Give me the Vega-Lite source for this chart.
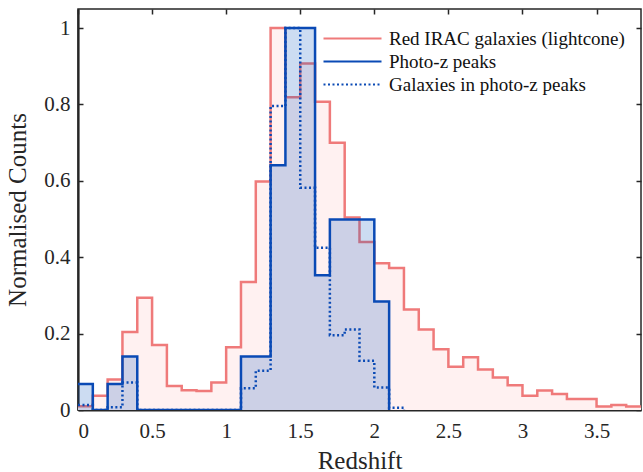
{
  "$schema": "https://vega.github.io/schema/vega-lite/v6.json",
  "width": 563,
  "height": 401,
  "autosize": {"type": "none"},
  "padding": {"left": 78, "top": 9, "right": 2, "bottom": 62},
  "background": "white",
  "config": {
    "font": "Liberation Serif",
    "view": {"stroke": "#262626", "strokeWidth": 1.5},
    "axis": {
      "grid": false,
      "zindex": 1,
      "domainColor": "#262626",
      "domainWidth": 2.2,
      "tickColor": "#262626",
      "tickWidth": 1.5,
      "tickSize": -5,
      "labelColor": "#262626",
      "titleColor": "#262626",
      "labelFont": "Liberation Serif",
      "titleFont": "Liberation Serif",
      "labelFontSize": 21,
      "titleFontSize": 25,
      "titleFontWeight": "normal"
    },
    "legend": {
      "orient": "none",
      "legendX": 244,
      "symbolType": "stroke",
      "symbolSize": 3364,
      "symbolStrokeWidth": 2.2,
      "labelFont": "Liberation Serif",
      "labelFontSize": 19,
      "labelLimit": 0,
      "labelColor": "#111111",
      "labelOffset": 6,
      "padding": 0
    }
  },
  "data": {
    "values": [
      {"series": "Red IRAC galaxies (lightcone)", "z": 0.0, "v": 0.01},
      {"series": "Red IRAC galaxies (lightcone)", "z": 0.1, "v": 0.037},
      {"series": "Red IRAC galaxies (lightcone)", "z": 0.2, "v": 0.08},
      {"series": "Red IRAC galaxies (lightcone)", "z": 0.3, "v": 0.204},
      {"series": "Red IRAC galaxies (lightcone)", "z": 0.4, "v": 0.294},
      {"series": "Red IRAC galaxies (lightcone)", "z": 0.5, "v": 0.17},
      {"series": "Red IRAC galaxies (lightcone)", "z": 0.6, "v": 0.063},
      {"series": "Red IRAC galaxies (lightcone)", "z": 0.7, "v": 0.052},
      {"series": "Red IRAC galaxies (lightcone)", "z": 0.8, "v": 0.05},
      {"series": "Red IRAC galaxies (lightcone)", "z": 0.9, "v": 0.072},
      {"series": "Red IRAC galaxies (lightcone)", "z": 1.0, "v": 0.164},
      {"series": "Red IRAC galaxies (lightcone)", "z": 1.1, "v": 0.335},
      {"series": "Red IRAC galaxies (lightcone)", "z": 1.2, "v": 0.598},
      {"series": "Red IRAC galaxies (lightcone)", "z": 1.3, "v": 1.0},
      {"series": "Red IRAC galaxies (lightcone)", "z": 1.4, "v": 0.819},
      {"series": "Red IRAC galaxies (lightcone)", "z": 1.5, "v": 0.907},
      {"series": "Red IRAC galaxies (lightcone)", "z": 1.6, "v": 0.807},
      {"series": "Red IRAC galaxies (lightcone)", "z": 1.7, "v": 0.70},
      {"series": "Red IRAC galaxies (lightcone)", "z": 1.8, "v": 0.504},
      {"series": "Red IRAC galaxies (lightcone)", "z": 1.9, "v": 0.44},
      {"series": "Red IRAC galaxies (lightcone)", "z": 2.0, "v": 0.384},
      {"series": "Red IRAC galaxies (lightcone)", "z": 2.1, "v": 0.372},
      {"series": "Red IRAC galaxies (lightcone)", "z": 2.2, "v": 0.263},
      {"series": "Red IRAC galaxies (lightcone)", "z": 2.3, "v": 0.211},
      {"series": "Red IRAC galaxies (lightcone)", "z": 2.4, "v": 0.159},
      {"series": "Red IRAC galaxies (lightcone)", "z": 2.5, "v": 0.113},
      {"series": "Red IRAC galaxies (lightcone)", "z": 2.6, "v": 0.138},
      {"series": "Red IRAC galaxies (lightcone)", "z": 2.7, "v": 0.106},
      {"series": "Red IRAC galaxies (lightcone)", "z": 2.8, "v": 0.085},
      {"series": "Red IRAC galaxies (lightcone)", "z": 2.9, "v": 0.065},
      {"series": "Red IRAC galaxies (lightcone)", "z": 3.0, "v": 0.037},
      {"series": "Red IRAC galaxies (lightcone)", "z": 3.1, "v": 0.051},
      {"series": "Red IRAC galaxies (lightcone)", "z": 3.2, "v": 0.042},
      {"series": "Red IRAC galaxies (lightcone)", "z": 3.3, "v": 0.029},
      {"series": "Red IRAC galaxies (lightcone)", "z": 3.4, "v": 0.029},
      {"series": "Red IRAC galaxies (lightcone)", "z": 3.5, "v": 0.009},
      {"series": "Red IRAC galaxies (lightcone)", "z": 3.6, "v": 0.013},
      {"series": "Red IRAC galaxies (lightcone)", "z": 3.7, "v": 0.009},
      {"series": "Red IRAC galaxies (lightcone)", "z": 3.8, "v": 0.009},
      {"series": "Photo-z peaks", "z": 0.0, "v": 0.068},
      {"series": "Photo-z peaks", "z": 0.1, "v": 0},
      {"series": "Photo-z peaks", "z": 0.2, "v": 0.068},
      {"series": "Photo-z peaks", "z": 0.3, "v": 0.14},
      {"series": "Photo-z peaks", "z": 0.4, "v": 0},
      {"series": "Photo-z peaks", "z": 1.1, "v": 0.14},
      {"series": "Photo-z peaks", "z": 1.2, "v": 0.14},
      {"series": "Photo-z peaks", "z": 1.3, "v": 0.641},
      {"series": "Photo-z peaks", "z": 1.4, "v": 1.0},
      {"series": "Photo-z peaks", "z": 1.5, "v": 1.0},
      {"series": "Photo-z peaks", "z": 1.6, "v": 0.353},
      {"series": "Photo-z peaks", "z": 1.7, "v": 0.499},
      {"series": "Photo-z peaks", "z": 1.8, "v": 0.499},
      {"series": "Photo-z peaks", "z": 1.9, "v": 0.499},
      {"series": "Photo-z peaks", "z": 2.0, "v": 0.284},
      {"series": "Photo-z peaks", "z": 2.1, "v": 0},
      {"series": "Galaxies in photo-z peaks", "z": 0.0, "v": 0.013},
      {"series": "Galaxies in photo-z peaks", "z": 0.1, "v": 0},
      {"series": "Galaxies in photo-z peaks", "z": 0.2, "v": 0.007},
      {"series": "Galaxies in photo-z peaks", "z": 0.3, "v": 0.072},
      {"series": "Galaxies in photo-z peaks", "z": 0.4, "v": 0},
      {"series": "Galaxies in photo-z peaks", "z": 1.1, "v": 0.057},
      {"series": "Galaxies in photo-z peaks", "z": 1.2, "v": 0.103},
      {"series": "Galaxies in photo-z peaks", "z": 1.3, "v": 0.796},
      {"series": "Galaxies in photo-z peaks", "z": 1.4, "v": 1.0},
      {"series": "Galaxies in photo-z peaks", "z": 1.5, "v": 0.582},
      {"series": "Galaxies in photo-z peaks", "z": 1.6, "v": 0.425},
      {"series": "Galaxies in photo-z peaks", "z": 1.7, "v": 0.196},
      {"series": "Galaxies in photo-z peaks", "z": 1.8, "v": 0.211},
      {"series": "Galaxies in photo-z peaks", "z": 1.9, "v": 0.129},
      {"series": "Galaxies in photo-z peaks", "z": 2.0, "v": 0.059},
      {"series": "Galaxies in photo-z peaks", "z": 2.1, "v": 0.006},
      {"series": "Galaxies in photo-z peaks", "z": 2.2, "v": 0}
    ]
  },
  "layer": [
    {
      "transform": [{"filter": "datum.series === 'Red IRAC galaxies (lightcone)'"}],
      "mark": {"type": "area", "interpolate": "step-after", "fill": "#fff1f1", "clip": true},
      "encoding": {
        "x": {"field": "z", "type": "quantitative", "scale": {"domain": [0, 3.8], "nice": false, "zero": false},
          "axis": {"orient": "bottom", "values": [0, 0.5, 1, 1.5, 2, 2.5, 3, 3.5], "format": "~g", "title": "Redshift", "labelPadding": 15, "titlePadding": 7}},
        "y": {"field": "v", "type": "quantitative", "scale": {"domain": [0, 1.05], "nice": false},
          "axis": {"orient": "left", "values": [0, 0.2, 0.4, 0.6, 0.8, 1], "format": "~g", "title": "Normalised Counts", "labelPadding": 13, "titlePadding": 13}}
      }
    },
    {
      "transform": [{"filter": "datum.series === 'Red IRAC galaxies (lightcone)'"}],
      "mark": {"type": "line", "interpolate": "step-after", "strokeWidth": 2.5, "clip": true},
      "encoding": {
        "x": {"field": "z", "type": "quantitative", "axis": null},
        "y": {"field": "v", "type": "quantitative", "axis": null},
        "stroke": {"field": "series", "type": "nominal", "title": null,
          "scale": {"domain": ["Red IRAC galaxies (lightcone)"], "range": ["#ef7a7a"]},
          "legend": {"legendX": 244, "legendY": -1}}
      }
    },
    {
      "transform": [{"filter": "datum.series === 'Photo-z peaks'"}],
      "mark": {"type": "area", "interpolate": "step-after", "fill": "#0050c0", "fillOpacity": 0.2, "clip": true},
      "encoding": {
        "x": {"field": "z", "type": "quantitative", "axis": null},
        "y": {"field": "v", "type": "quantitative", "axis": null}
      }
    },
    {
      "transform": [{"filter": "datum.series === 'Photo-z peaks'"}],
      "mark": {"type": "line", "interpolate": "step-after", "strokeWidth": 2.5, "clip": true},
      "encoding": {
        "x": {"field": "z", "type": "quantitative", "axis": null},
        "y": {"field": "v", "type": "quantitative", "axis": null},
        "color": {"field": "series", "type": "nominal", "title": null,
          "scale": {"domain": ["Photo-z peaks"], "range": ["#0a4ab5"]},
          "legend": {"legendX": 244, "legendY": 22}}
      }
    },
    {
      "transform": [{"filter": "datum.series === 'Galaxies in photo-z peaks'"}],
      "mark": {"type": "line", "interpolate": "step-after", "strokeWidth": 2.5, "clip": true, "color": "#0a4ab5"},
      "encoding": {
        "x": {"field": "z", "type": "quantitative",
          "axis": {"orient": "top", "values": [0, 0.5, 1, 1.5, 2, 2.5, 3, 3.5], "labels": false, "title": null, "domain": false}},
        "y": {"field": "v", "type": "quantitative",
          "axis": {"orient": "right", "values": [0, 0.2, 0.4, 0.6, 0.8, 1], "labels": false, "title": null, "domain": false}},
        "strokeDash": {"field": "series", "type": "nominal", "title": null,
          "scale": {"domain": ["Galaxies in photo-z peaks"], "range": [[2, 2.5]]},
          "legend": {"legendX": 244, "legendY": 45, "symbolStrokeColor": "#0a4ab5"}}
      }
    }
  ],
  "resolve": {"axis": {"x": "independent", "y": "independent"}}
}
